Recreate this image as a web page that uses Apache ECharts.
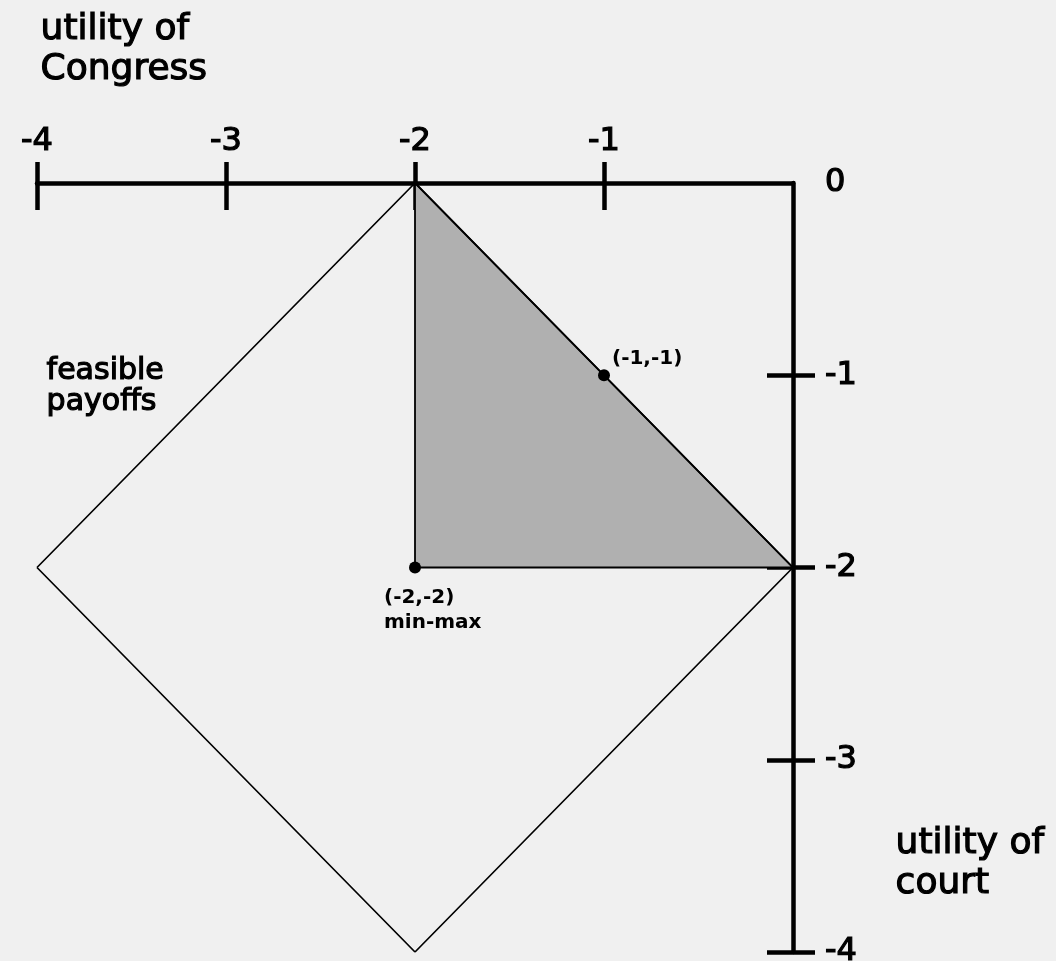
<!DOCTYPE html>
<html>
<head>
<meta charset="utf-8">
<script src="https://cdn.jsdelivr.net/npm/echarts@6/dist/echarts.min.js"></script>
<style>
html,body{margin:0;padding:0;background:#f0f0f0;}
#chart{width:1056px;height:961px;}
</style>
</head>
<body>
<div id="chart"></div>
<script>
// ---- data ----
const xTickValues = [-4, -3, -2, -1];
const yTickValues = [-1, -2, -3, -4];
const yLabelValues = [0, -1, -2, -3, -4];
const feasibleVertices = [[-4, -2], [-2, 0], [0, -2], [-2, -4], [-4, -2]];
const shadedVertices = [[-2, 0], [0, -2], [-2, -2]];
const pointCoords = [[-1, -1], [-2, -2]];
const pointLabels = ['(-1,-1)', '(-2,-2)\nmin-max'];
const congressTitle = 'utility of\nCongress';
const courtTitle = 'utility of\ncourt';
const regionLabel = 'feasible\npayoffs';

const FONT = '"DejaVu Sans", sans-serif';
const chart = echarts.init(document.getElementById('chart'));

const axisCommon = {
  type: 'value', min: -4, max: 0, interval: 1,
  splitLine: { show: false }
};
const tickLabelStyle = {
  color: '#000', fontSize: 32, fontFamily: FONT,
  textBorderColor: '#000', textBorderWidth: 1.2
};

const option = {
  backgroundColor: '#f0f0f0',
  animation: false,
  grid: { left: 37, right: 263, top: 183, bottom: 9, containLabel: false, outerBoundsMode: 'none' },
  xAxis: [
    Object.assign({}, axisCommon, {
      position: 'top',
      axisLine: { show: true, lineStyle: { color: '#000', width: 4.5 } },
      axisTick: { show: true, inside: false, length: 21, customValues: xTickValues, lineStyle: { color: '#000', width: 4.5 } },
      axisLabel: Object.assign({ show: true, customValues: xTickValues, margin: 25 }, tickLabelStyle)
    }),
    Object.assign({}, axisCommon, {
      position: 'top',
      axisLine: { show: false },
      axisTick: { show: true, inside: true, length: 27, customValues: xTickValues, lineStyle: { color: '#000', width: 4.5 } },
      axisLabel: { show: false }
    })
  ],
  yAxis: [
    Object.assign({}, axisCommon, {
      position: 'right',
      axisLine: { show: true, lineStyle: { color: '#000', width: 4.5 } },
      axisTick: { show: true, inside: false, length: 22, customValues: yTickValues, lineStyle: { color: '#000', width: 4.5 } },
      axisLabel: Object.assign({ show: true, customValues: yLabelValues, margin: 32 }, tickLabelStyle)
    }),
    Object.assign({}, axisCommon, {
      position: 'right',
      axisLine: { show: false },
      axisTick: { show: true, inside: true, length: 26, customValues: yTickValues, lineStyle: { color: '#000', width: 4.5 } },
      axisLabel: { show: false }
    })
  ],
  series: [
    {
      type: 'custom',
      coordinateSystem: 'cartesian2d',
      xAxisIndex: 0, yAxisIndex: 0,
      data: [shadedVertices[0]],
      z: 1,
      renderItem: function (params, api) {
        const pts = shadedVertices.map(v => api.coord(v));
        return {
          type: 'polygon',
          shape: { points: pts },
          style: { fill: '#b0b0b0', stroke: '#000', lineWidth: 1.8 }
        };
      }
    },
    {
      type: 'line',
      xAxisIndex: 0, yAxisIndex: 0,
      data: feasibleVertices,
      showSymbol: false,
      symbol: 'none',
      z: 2,
      lineStyle: { color: '#000', width: 1.7 }
    },
    {
      type: 'scatter',
      xAxisIndex: 0, yAxisIndex: 0,
      symbolSize: 12,
      z: 3,
      itemStyle: { color: '#000', opacity: 1 },
      data: pointCoords.map((c, i) => ({
        value: c,
        label: {
          show: true,
          formatter: pointLabels[i],
          position: i === 0 ? [14, -23] : [-25, 24],
          align: 'left',
          verticalAlign: 'top',
          color: '#000',
          fontSize: 20,
          fontWeight: 'bold',
          lineHeight: 25,
          fontFamily: FONT
        }
      }))
    }
  ],
  graphic: [
    { type: 'text', left: 40, top: 10, style: { text: congressTitle, font: '36px ' + FONT, lineHeight: 40, fill: '#000', stroke: '#000', lineWidth: 1.2 } },
    { type: 'text', left: 46, top: 356, style: { text: regionLabel, font: '30px ' + FONT, lineHeight: 31, fill: '#000', stroke: '#000', lineWidth: 1.2 } },
    { type: 'text', left: 895, top: 824, style: { text: courtTitle, font: '36px ' + FONT, lineHeight: 40, fill: '#000', stroke: '#000', lineWidth: 1.2 } }
  ]
};
chart.setOption(option);
</script>
</body>
</html>
